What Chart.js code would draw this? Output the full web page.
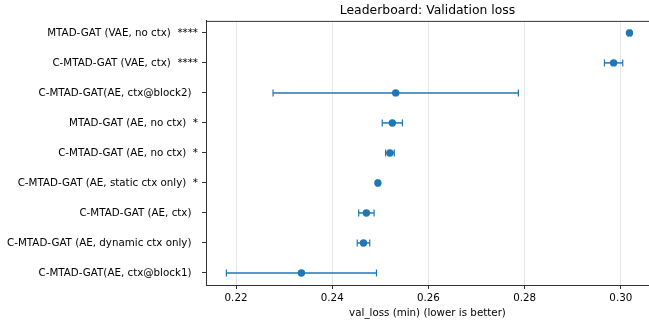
<!DOCTYPE html>
<html>
<head>
<meta charset="utf-8">
<script src="https://cdn.jsdelivr.net/npm/chart.js@4/dist/chart.umd.min.js"></script>
<style>
  html, body { margin: 0; padding: 0; background: #fff; }
  #wrap { width: 649px; height: 324px; }
</style>
</head>
<body>
<div id="wrap"><canvas id="chart" width="649" height="324"></canvas></div>
<script>
// Models, top row first
const models = [
    'MTAD-GAT (VAE, no ctx)  ****',
    'C-MTAD-GAT (VAE, ctx)  ****',
    'C-MTAD-GAT(AE, ctx@block2)  ',
    'MTAD-GAT (AE, no ctx)  *',
    'C-MTAD-GAT (AE, no ctx)  *',
    'C-MTAD-GAT (AE, static ctx only)  *',
    'C-MTAD-GAT (AE, ctx)  ',
    'C-MTAD-GAT (AE, dynamic ctx only)  ',
    'C-MTAD-GAT(AE, ctx@block1)  '
];
// min val_loss per model and its spread
const valLoss = [0.3018, 0.2985, 0.2532, 0.2525, 0.2520, 0.2495, 0.2471, 0.2465, 0.2336];
const valErr  = [0.0003, 0.0019, 0.0255, 0.0021, 0.0009, 0.0002, 0.0016, 0.0013, 0.0156];
const xTicks = [0.22, 0.24, 0.26, 0.28, 0.30];

const BLUE = '#1f77b4';
const FONT = 'DejaVu Sans';

// one small line dataset per error bar, caps drawn as rotated 'line' points
const errDatasets = models.map((m, i) => ({
    type: 'scatter',
    showLine: true,
    data: [
        { x: valLoss[i] - valErr[i], y: i },
        { x: valLoss[i] + valErr[i], y: i }
    ],
    borderColor: BLUE,
    backgroundColor: BLUE,
    borderWidth: 1.5,
    pointStyle: 'line',
    rotation: 90,
    pointRadius: 3.5,
    pointBorderWidth: 1.2
}));

// draws the top spine
const topSpine = {
    id: 'topSpine',
    afterDraw(chart) {
        const { ctx, chartArea } = chart;
        ctx.save();
        ctx.strokeStyle = '#333';
        ctx.lineWidth = 1;
        ctx.beginPath();
        ctx.moveTo(chartArea.left, chartArea.top + 0.5);
        ctx.lineTo(chartArea.right, chartArea.top + 0.5);
        ctx.stroke();
        ctx.restore();
    }
};

new Chart(document.getElementById('chart'), {
    type: 'scatter',
    data: {
        datasets: [
            {
                data: valLoss.map((v, i) => ({ x: v, y: i })),
                backgroundColor: BLUE,
                borderColor: BLUE,
                pointRadius: 3.7,
                pointBorderWidth: 0
            },
            ...errDatasets
        ]
    },
    options: {
        responsive: false,
        animation: false,
        layout: { padding: 0, autoPadding: false },
        plugins: {
            legend: { display: false },
            tooltip: { enabled: false },
            title: {
                display: true,
                fullSize: false,
                text: 'Leaderboard: Validation loss',
                color: '#000',
                font: { family: FONT, size: 12.4, weight: 'normal' },
                padding: { top: 3, bottom: 3 }
            }
        },
        scales: {
            x: {
                type: 'linear',
                min: 0.21376,
                max: 0.30586,
                afterBuildTicks: s => { s.ticks = xTicks.map(v => ({ value: v })); },
                afterFit: s => { s.height = 39; s.paddingLeft = 0; s.paddingRight = 0; },
                ticks: {
                    color: '#000',
                    font: { family: FONT, size: 10.3 },
                    padding: 3,
                    maxRotation: 0,
                    callback: v => v.toFixed(2)
                },
                grid: { color: '#e6e6e6', tickColor: '#333', tickLength: 4 },
                border: { color: '#333', width: 1 },
                title: {
                    display: true,
                    text: 'val_loss (min) (lower is better)',
                    color: '#000',
                    font: { family: FONT, size: 10.3 },
                    padding: { top: 3, bottom: 4 }
                }
            },
            y: {
                type: 'linear',
                reverse: true,
                min: -0.4,
                max: models.length - 0.6,
                afterBuildTicks: s => { s.ticks = models.map((m, i) => ({ value: i })); },
                afterFit: s => { s.width = 206; s.paddingTop = 0; s.paddingBottom = 0; },
                ticks: {
                    color: '#000',
                    font: { family: FONT, size: 10.3 },
                    padding: 4,
                    callback: v => models[v]
                },
                grid: { drawOnChartArea: false, tickColor: '#333', tickLength: 4 },
                border: { color: '#333', width: 1 }
            }
        }
    },
    plugins: [topSpine]
});
</script>
</body>
</html>
